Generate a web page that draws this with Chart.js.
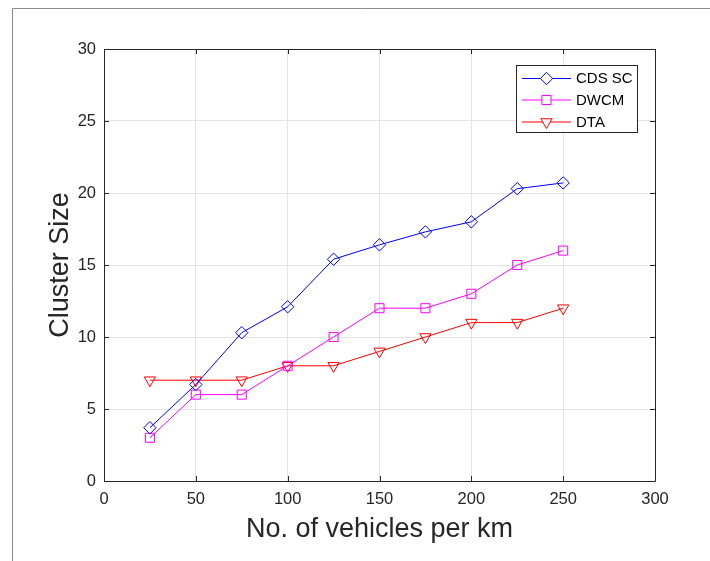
<!DOCTYPE html>
<html>
<head>
<meta charset="utf-8">
<script src="https://cdn.jsdelivr.net/npm/chart.js@4/dist/chart.umd.min.js"></script>
<style>
html,body{margin:0;padding:0;background:#fff;}
#wrap{width:710px;height:561px;position:relative;}
</style>
</head>
<body>
<div id="wrap"><canvas id="c" width="710" height="561"></canvas></div>
<script>
const vehicles = [25, 50, 75, 100, 125, 150, 175, 200, 225, 250];
const cdsSc = [3.7, 6.7, 10.3, 12.1, 15.4, 16.4, 17.3, 18.0, 20.3, 20.7];
const dwcm = [3, 6, 6, 8, 10, 12, 12, 13, 15, 16];
const dta = [7, 7, 7, 8, 8, 9, 10, 11, 11, 12];
const xTicks = [0, 50, 100, 150, 200, 250, 300];
const yTicks = [0, 5, 10, 15, 20, 25, 30];
const seriesNames = ['CDS SC', 'DWCM', 'DTA'];
const xTitle = 'No. of vehicles per km';
const yTitle = 'Cluster Size';

const FONT = "'Liberation Sans', Arial, Helvetica, sans-serif";
const AX = '#262626';

function pts(vals){ return vehicles.map((x,i)=>({x:x, y:vals[i]})); }

const framePlugin = {
  id: 'frame',
  beforeDraw(chart){
    const ctx = chart.ctx;
    ctx.save();
    ctx.fillStyle = '#fff';
    ctx.fillRect(0,0,chart.width,chart.height);
    ctx.strokeStyle = '#8c8c8c';
    ctx.lineWidth = 1;
    ctx.beginPath();
    ctx.moveTo(12.5, chart.height);
    ctx.lineTo(12.5, 8.5);
    ctx.lineTo(chart.width, 8.5);
    ctx.stroke();
    ctx.restore();
  },
  afterDatasetsDraw(chart){
    const ctx = chart.ctx;
    const a = chart.chartArea;
    const xs = chart.scales.x, ys = chart.scales.y;
    ctx.save();
    ctx.strokeStyle = AX;
    ctx.lineWidth = 1;
    ctx.beginPath();
    ctx.rect(Math.round(a.left)+0.5, Math.round(a.top)+0.5, Math.round(a.right-a.left), Math.round(a.bottom-a.top));
    ctx.stroke();
    const tl = 5;
    ctx.beginPath();
    xTicks.forEach(v=>{
      const px = Math.round(xs.getPixelForValue(v))+0.5;
      ctx.moveTo(px, a.bottom); ctx.lineTo(px, a.bottom - tl);
      ctx.moveTo(px, a.top); ctx.lineTo(px, a.top + tl);
    });
    yTicks.forEach(v=>{
      const py = Math.round(ys.getPixelForValue(v))+0.5;
      ctx.moveTo(a.left, py); ctx.lineTo(a.left + tl, py);
      ctx.moveTo(a.right, py); ctx.lineTo(a.right - tl, py);
    });
    ctx.stroke();

    // legend
    const lx = 516.5, ly = 65.5, lw = 121, lh = 67;
    ctx.fillStyle = '#fff';
    ctx.fillRect(lx, ly, lw, lh);
    ctx.strokeStyle = AX;
    ctx.strokeRect(lx, ly, lw, lh);
    const rows = [78.5, 100, 122];
    chart.data.datasets.forEach((ds,i)=>{
      const y = rows[i];
      ctx.strokeStyle = ds.borderColor;
      ctx.lineWidth = 1;
      ctx.beginPath();
      ctx.moveTo(522, y); ctx.lineTo(571, y);
      ctx.stroke();
      ctx.fillStyle = '#fff';
      ctx.strokeStyle = ds.pointBorderColor;
      Chart.helpers.drawPoint(ctx, {
        pointStyle: ds.pointStyle, radius: ds.pointRadius, rotation: ds.pointRotation || 0, borderWidth: 1
      }, 546.5, y);
      ctx.fillStyle = '#000';
      ctx.font = '15px ' + FONT;
      ctx.textBaseline = 'middle';
      ctx.textAlign = 'left';
      ctx.fillText(ds.label, 576, y + 0.5);
    });
    ctx.restore();
  }
};

function mkDs(label, vals, color, style, r, rot){
  return {
    label: label,
    data: pts(vals),
    borderColor: color,
    backgroundColor: 'rgba(0,0,0,0)',
    pointBackgroundColor: 'rgba(255,255,255,0)',
    pointBorderColor: color,
    borderWidth: 1,
    pointBorderWidth: 1,
    pointStyle: style,
    pointRadius: r,
    pointHoverRadius: r,
    pointRotation: rot || 0,
    tension: 0,
    fill: false
  };
}

new Chart(document.getElementById('c'), {
  type: 'line',
  data: {
    datasets: [
      mkDs(seriesNames[0], cdsSc, '#0000ff', 'rectRot', 6.2),
      mkDs(seriesNames[1], dwcm, '#ff00ff', 'rect', 6.4),
      mkDs(seriesNames[2], dta, '#ff0000', 'triangle', 6.5, 180)
    ]
  },
  options: {
    responsive: false,
    animation: false,
    devicePixelRatio: 1,
    layout: { padding: { left: 0, right: 55, top: 49, bottom: 0 } },
    plugins: { legend: { display: false }, tooltip: { enabled: false } },
    scales: {
      x: {
        type: 'linear', min: 0, max: 300,
        afterBuildTicks(s){ s.ticks = xTicks.map(v=>({value:v})); },
        afterFit(s){ s.height = 80; },
        border: { display: false },
        grid: { color: '#e3e3e3', lineWidth: 1, drawTicks: false },
        ticks: { padding: 9, color: AX, font: { family: FONT, size: 16.5 }, maxRotation: 0 },
        title: { display: true, text: xTitle, color: AX, font: { family: FONT, size: 27 }, padding: { top: 0, bottom: 15 } }
      },
      y: {
        type: 'linear', min: 0, max: 30,
        afterBuildTicks(s){ s.ticks = yTicks.map(v=>({value:v})); },
        afterFit(s){ s.width = 104; },
        border: { display: false },
        grid: { color: '#e3e3e3', lineWidth: 1, drawTicks: false },
        ticks: { padding: 8, color: AX, font: { family: FONT, size: 16.5 } },
        title: { display: true, text: yTitle, color: AX, font: { family: FONT, size: 27 }, padding: { top: 44, bottom: 0 } }
      }
    }
  },
  plugins: [framePlugin]
});
</script>
</body>
</html>
